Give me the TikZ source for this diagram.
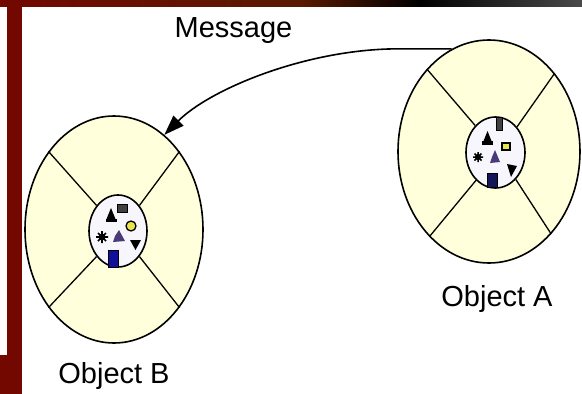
\documentclass[tikz,border=0pt]{standalone}
\usepackage{fontspec}
\setmainfont{Liberation Sans}
\usetikzlibrary{shapes.geometric,arrows.meta}
\definecolor{maroon}{HTML}{720800}
\definecolor{brownred}{HTML}{5A1A00}
\definecolor{barend}{HTML}{4A4A4A}
\definecolor{cream}{HTML}{FFFFDC}
\definecolor{nucfill}{HTML}{F6F6FC}
\definecolor{dkblue}{HTML}{10109A}
\definecolor{navy}{HTML}{15155A}
\definecolor{purp}{HTML}{4A3A7A}
\definecolor{yel}{HTML}{E6E64A}
\definecolor{dgray}{HTML}{404040}
\begin{document}
\begin{tikzpicture}[x=1pt,y=-1pt,
  cell/.style={ellipse, draw=black, line width=1.6pt, fill=cream, inner sep=0pt},
  nucleus/.style={ellipse, draw=black, line width=1.6pt, fill=nucfill, inner sep=0pt},
  wedge/.style={draw=black, line width=1.3pt},
  lbl/.style={font=\fontsize{29}{30}\selectfont, anchor=base, inner sep=0pt},
  msg/.style={draw=black, line width=1.6pt, -{Triangle[length=20pt,width=14pt]}},
  part/.style={draw=black, line width=0.8pt}
]
\useasboundingbox (0,0) rectangle (582,394);
\fill[white] (0,0) rectangle (582,394);
% frame bars
\shade[left color=maroon, right color=brownred] (0,0) rectangle (300,6);
\shade[left color=brownred, right color=black] (300,0) rectangle (420,6);
\shade[left color=black, right color=barend] (420,0) rectangle (582,6);
\fill[maroon] (7,6) rectangle (22,394);
\fill[maroon] (0,355) rectangle (7,394);

% cells
\node[cell, minimum width=178pt, minimum height=227pt] (B) at (114,229.5) {};
\node[nucleus, minimum width=58pt, minimum height=72pt] (Bn) at (118,231) {};
\node[cell, minimum width=182pt, minimum height=223pt] (A) at (489,151.5) {};
\node[nucleus, minimum width=59pt, minimum height=71pt] (An) at (495.5,152.5) {};

\foreach \a in {50,130,230,310} \draw[wedge] (Bn.\a) -- (B.\a);
\draw[wedge] (An.50) -- (A.50);
\draw[wedge] (An.127) -- (A.127);
\draw[wedge] (An.235) -- (A.235);
\draw[wedge] (An.307) -- (A.307);

% nucleus contents B
\filldraw[part, fill=dgray] (117,204) rectangle (127,212);
\fill (111,208) -- (115.5,219) -- (106.5,219) -- cycle;
\fill (106,219) rectangle (117,222);
\filldraw[draw=black, line width=1.3pt, fill=yel] (131,226) circle (5);
\fill (102,237) circle (3.5);
\draw[line width=1.6pt] (96,237) -- (108,237) (102,231) -- (102,243) (98,233) -- (106,241) (98,241) -- (106,233);
\fill[purp] (119,230) -- (125,241) -- (113,242) -- (115,236) -- cycle;
\fill (130,240) -- (141,240) -- (135.5,250) -- cycle;
\filldraw[part, fill=dkblue] (108,250) rectangle (118,267);

% nucleus contents A
\filldraw[part, fill=dgray] (496,117) rectangle (502,130);
\fill (487.5,131) -- (491.5,141) -- (483.5,141) -- cycle;
\fill (482,141) rectangle (493,145);
\filldraw[draw=black, line width=1.3pt, fill=yel] (502,143) rectangle (510,150);
\fill (478,157) circle (3);
\draw[line width=1.5pt] (473,157) -- (483,157) (478,152) -- (478,162) (474.5,153.5) -- (481.5,160.5) (474.5,160.5) -- (481.5,153.5);
\fill[purp] (495,150) -- (500,162) -- (490,163) -- (492,157) -- cycle;
\fill (507,164) -- (517,166) -- (511,177) -- cycle;
\filldraw[part, fill=navy] (487,173) rectangle (497,187);

% message arrow
\draw[msg] (A.110) -- ++(-60,0) .. controls +(-90,2) and +(45,-45) .. (B.62);

% labels
\node[lbl] (msgtext) at (233.5,37) {Message};
\node[lbl] (Alabel) at (497,306) {Object A};
\node[lbl] (Blabel) at (114,383) {Object B};
\end{tikzpicture}
\end{document}
